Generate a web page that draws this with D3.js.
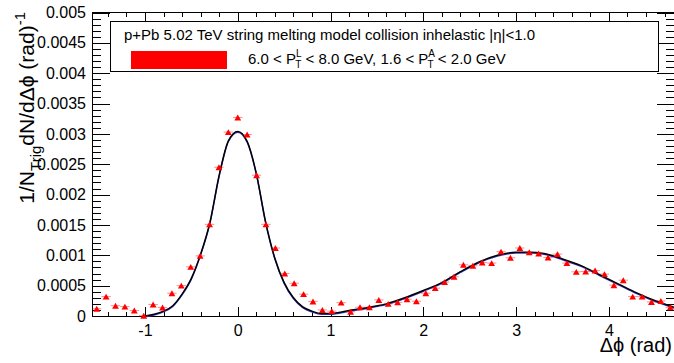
<!DOCTYPE html>
<html>
<head>
<meta charset="utf-8">
<script src="https://cdn.jsdelivr.net/npm/d3@7"></script>
<style>
  body { margin: 0; background: #fff; }
  text { font-family: 'Liberation Sans', Arial, Helvetica, sans-serif; }
</style>
</head>
<body>
<div id="app"></div>
<script>
// per-bin yields, 62 bins over [-pi/2, 3pi/2]
const yields = [
  0.00012, 0.00032, 0.00017, 0.000155, 0.00009, 0.000005, 0.00019, 0.00014,
  0.000375, 0.0005, 0.00081, 0.00099, 0.00151, 0.00245, 0.00303, 0.00327,
  0.00299, 0.00232, 0.00151, 0.00112, 0.0007, 0.00054, 0.00036, 0.00024,
  0.0001, 0.00008, 0.00022, 0.00007, 0.000144, 0.000144, 0.000265, 0.0002,
  0.000225, 0.000276, 0.000243, 0.000375, 0.000459, 0.000558, 0.000646, 0.000844,
  0.000828, 0.000882, 0.000872, 0.00106, 0.00096, 0.00112, 0.00105, 0.00103,
  0.000965, 0.00102, 0.000872, 0.000728, 0.000733, 0.00075, 0.00069, 0.000508,
  0.00059, 0.00032, 0.00032, 0.000232, 0.000248, 0.000144,
]

// fit curve
const fitX = [
  -1.0, -0.9, -0.8, -0.7, -0.6, -0.5, -0.4, -0.3, -0.2, -0.1, 0.0,
  0.1, 0.2, 0.3, 0.4, 0.5, 0.6, 0.7, 0.8, 0.9, 1.0,
  1.2, 1.4, 1.6, 1.8, 2.0, 2.2, 2.4, 2.6, 2.8, 3.0, 3.14,
  3.3, 3.5, 3.7, 3.9, 4.1, 4.3, 4.5, 4.712,
]
const fitY = [
  0.0, 0.00003, 0.00008, 0.00017, 0.00036, 0.00062, 0.00102, 0.00154, 0.00232, 0.00289, 0.00304,
  0.00288, 0.00235, 0.00155, 0.00095, 0.00055, 0.0003, 0.00015, 0.00008, 0.00004, 0.00004,
  0.00009, 0.00014, 0.0002, 0.0003, 0.00042, 0.00055, 0.00073, 0.00089, 0.001, 0.00105, 0.00105,
  0.00103, 0.00094, 0.00083, 0.00068, 0.00053, 0.00038, 0.00025, 0.00014,
]

const xTicks = [-1, 0, 1, 2, 3, 4]
const xTickLabels = ['-1', '0', '1', '2', '3', '4']
const yTicks = [0, 0.0005, 0.001, 0.0015, 0.002, 0.0025, 0.003, 0.0035, 0.004, 0.0045, 0.005]
const yTickLabels = ['0', '0.0005', '0.001', '0.0015', '0.002', '0.0025', '0.003', '0.0035', '0.004', '0.0045', '0.005']

const legendTitle = 'p+Pb 5.02 TeV string melting model collision inhelastic |η|<1.0'

const config = {
  width: 674,
  height: 363,
  left: 92,
  right: 675,
  top: 12.5,
  bottom: 316,
  red: '#ff0000',
}

const draw = () => {
  const svg = d3
    .select('#app')
    .append('svg')
    .attr('width', config.width)
    .attr('height', config.height)
    .style('display', 'block')

  svg.append('rect').attr('width', config.width).attr('height', config.height).attr('fill', '#fff')

  const x = d3
    .scaleLinear()
    .domain([-Math.PI / 2, (3 * Math.PI) / 2])
    .range([config.left, config.right])
  const y = d3.scaleLinear().domain([0, 0.005]).range([config.bottom, config.top])

  const nBins = yields.length
  const binW = (2 * Math.PI) / nBins
  const points = yields.map((v, i) => ({c: -Math.PI / 2 + (i + 0.5) * binW, v}))

  const xMinor = d3.range(-14, 47, 2).map((d) => d / 10)
  const yMinor = d3.range(0, 51).map((d) => d / 10000)

  const styleAxis = (g) => {
    g.select('.domain').remove()
    g.selectAll('line').attr('stroke', '#000').attr('shape-rendering', 'crispEdges')
    g.selectAll('text')
      .attr('fill', '#000')
      .attr('font-size', 16)
      .attr('font-family', "'Liberation Sans', Arial, sans-serif")
  }

  // bottom
  svg.append('g').attr('transform', `translate(0,${config.bottom})`)
    .call(d3.axisBottom(x).tickValues(xMinor).tickSize(-4.5).tickFormat(''))
    .call(styleAxis)
  svg.append('g').attr('transform', `translate(0,${config.bottom})`)
    .call(d3.axisBottom(x).tickValues(xTicks).tickSize(-9).tickPadding(9)
      .tickFormat((d, i) => xTickLabels[i]))
    .call(styleAxis)
  // top
  svg.append('g').attr('transform', `translate(0,${config.top})`)
    .call(d3.axisTop(x).tickValues(xMinor).tickSize(-4.5).tickFormat(''))
    .call(styleAxis)
  svg.append('g').attr('transform', `translate(0,${config.top})`)
    .call(d3.axisTop(x).tickValues(xTicks).tickSize(-9).tickFormat(''))
    .call(styleAxis)
  // left
  svg.append('g').attr('transform', `translate(${config.left},0)`)
    .call(d3.axisLeft(y).tickValues(yMinor).tickSize(-9).tickFormat(''))
    .call(styleAxis)
  svg.append('g').attr('transform', `translate(${config.left},0)`)
    .call(d3.axisLeft(y).tickValues(yTicks).tickSize(-18).tickPadding(6)
      .tickFormat((d, i) => yTickLabels[i]))
    .call(styleAxis)
  // right
  svg.append('g').attr('transform', `translate(${config.right},0)`)
    .call(d3.axisRight(y).tickValues(yMinor).tickSize(-9).tickFormat(''))
    .call(styleAxis)
  svg.append('g').attr('transform', `translate(${config.right},0)`)
    .call(d3.axisRight(y).tickValues(yTicks).tickSize(-18).tickFormat(''))
    .call(styleAxis)

  // frame
  svg.append('rect')
    .attr('x', config.left).attr('y', config.top)
    .attr('width', config.right - config.left).attr('height', config.bottom - config.top)
    .attr('fill', 'none').attr('stroke', '#000').attr('shape-rendering', 'crispEdges')

  // fit curve
  const fitPts = fitX.map((d, i) => [d, fitY[i]])
  const line = d3.line().x((d) => x(d[0])).y((d) => y(d[1])).curve(d3.curveMonotoneX)
  svg.append('path').attr('d', line(fitPts))
    .attr('transform', 'translate(0,0.8)')
    .attr('fill', 'none').attr('stroke', '#3a3acc').attr('stroke-width', 1.4)
  svg.append('path').attr('d', line(fitPts))
    .attr('fill', 'none').attr('stroke', '#000').attr('stroke-width', 1.5)

  // error bars + markers
  const pts = svg.append('g')
  pts.selectAll('line').data(points).join('line')
    .attr('x1', (d) => x(d.c - binW / 2)).attr('x2', (d) => x(d.c + binW / 2))
    .attr('y1', (d) => y(d.v)).attr('y2', (d) => y(d.v))
    .attr('stroke', config.red).attr('stroke-opacity', 0.45).attr('stroke-width', 1)
  const tri = d3.symbol().type(d3.symbolTriangle).size(20)
  pts.selectAll('path').data(points).join('path')
    .attr('d', tri)
    .attr('transform', (d) => `translate(${x(d.c)},${y(d.v) + 1})`)
    .attr('fill', config.red)

  // legend
  const leg = svg.append('g')
  leg.append('rect')
    .attr('x', 110.5).attr('y', 21.5).attr('width', 548).attr('height', 50)
    .attr('fill', '#fff').attr('stroke', '#000').attr('shape-rendering', 'crispEdges')
  leg.append('text').attr('x', 124).attr('y', 40).attr('font-size', 15).text(legendTitle)
  leg.append('rect')
    .attr('x', 131).attr('y', 51).attr('width', 96).attr('height', 18)
    .attr('fill', config.red)
  const l2 = leg.append('text').attr('x', 248).attr('y', 64).attr('font-size', 15)
  const addP = (sup) => {
    l2.append('tspan').text('P')
    l2.append('tspan').attr('font-size', 10).attr('dy', -7).text(sup)
    l2.append('tspan').attr('font-size', 10).attr('dx', sup === 'L' ? -5.6 : -6.7).attr('dy', 11).text('T')
  }
  l2.append('tspan').text('6.0 < ')
  addP('L')
  l2.append('tspan').attr('dy', -4).text(' < 8.0 GeV, 1.6 < ')
  addP('A')
  l2.append('tspan').attr('dy', -4).text(' < 2.0 GeV')

  // axis titles
  svg.append('text')
    .attr('x', 672).attr('y', 352).attr('text-anchor', 'end').attr('font-size', 20)
    .text('Δϕ (rad)')
  const yt = svg.append('text')
    .attr('transform', 'translate(34,12) rotate(-90)')
    .attr('text-anchor', 'end').attr('font-size', 21)
  yt.append('tspan').text('1/N')
  yt.append('tspan').attr('font-size', 15).attr('dy', 7).text('Trig')
  yt.append('tspan').attr('dy', -7).text('dN/dΔϕ (rad)')
  yt.append('tspan').attr('font-size', 15).attr('dy', -9).text('-1')
}
draw()
</script>
</body>
</html>
